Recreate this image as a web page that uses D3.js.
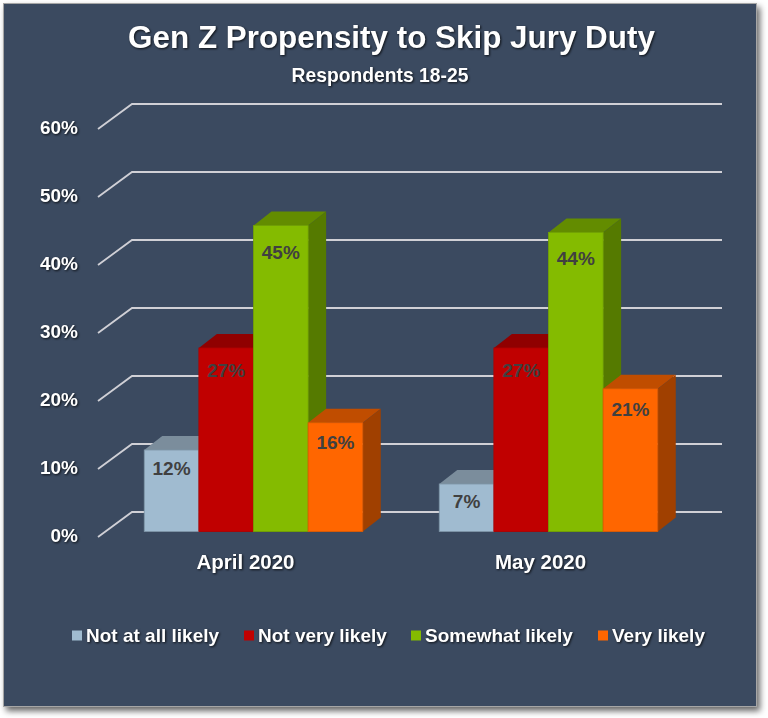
<!DOCTYPE html>
<html>
<head>
<meta charset="utf-8">
<script src="https://cdn.jsdelivr.net/npm/d3@7"></script>
<style>
  html, body { margin: 0; padding: 0; background: #fff; }
  svg { display: block; }
  text { font-family: "Liberation Sans", Arial, sans-serif; font-weight: bold; }
  .glow { fill: #fff; filter: drop-shadow(1.7px 1.7px 1.2px rgba(0, 0, 0, .75)); }
  .bar-label { fill: #404040; font-size: 19px; text-anchor: middle; dominant-baseline: central; }
</style>
</head>
<body>
<script>
const months = ['April 2020', 'May 2020']
const seriesNames = ['Not at all likely', 'Not very likely', 'Somewhat likely', 'Very likely']
const notAtAll = [12, 7]
const notVery = [27, 27]
const somewhat = [45, 44]
const veryLikely = [16, 21]
const yTicks = [0, 10, 20, 30, 40, 50, 60]
const frontColors = ['#a0bbd0', '#c00000', '#84bb00', '#ff6600']
const topColors = ['#7b8d9c', '#900000', '#638c00', '#c04d00']
const sideColors = ['#6f8191', '#800000', '#557a00', '#a04000']
const edgeColors = ['#7d94a6', '#b00000', '#74a400', '#e05a00']

const seriesValues = [notAtAll, notVery, somewhat, veryLikely]

const WIDTH = 768
const HEIGHT = 718
// floor depth of the fake 3D box, and the part of it taken by the bars
const DEPTH = { x: 34, y: 25 }
const BAR_FRONT = { x: 8, y: 5.4 }
const BAR_DEPTH = { x: 18, y: 14 }

const svg = d3.select('body').append('svg')
  .attr('width', WIDTH)
  .attr('height', HEIGHT)

svg.append('rect')
  .attr('x', 3.5)
  .attr('y', 3.5)
  .attr('width', 753)
  .attr('height', 703)
  .attr('fill', '#3b4a60')
  .attr('stroke', '#a6a6a6')
  .style('filter', 'drop-shadow(3px 4px 3px rgba(0, 0, 0, .6))')

const x = d3.scaleBand().domain(months).range([98, 688])
const y = d3.scaleLinear().domain([0, 60]).range([537, 129])
const labelY = d3.scaleLinear().domain([0, 60]).range([547, 154])

const barGroup = d3.scaleBand()
  .domain(seriesNames)
  .range([0, x.bandwidth()])
  .paddingInner(0)
  .paddingOuter(0.7)

// gridlines, back wall and the slanted floor piece
svg.append('g')
  .selectAll('path')
  .data(yTicks)
  .join('path')
  .attr('d', d => d3.line()([
    [x.range()[0], y(d)],
    [x.range()[0] + DEPTH.x, y(d) - DEPTH.y],
    [x.range()[1] + DEPTH.x, y(d) - DEPTH.y],
  ]))
  .attr('fill', 'none')
  .attr('stroke', '#d0d0d6')
  .attr('stroke-width', 1.8)

const yAxis = svg.append('g')
  .attr('transform', 'translate(78,-2)')
  .call(d3.axisLeft(y).tickValues(yTicks).tickFormat(d => `${d}%`).tickSize(0).tickPadding(0))

yAxis.select('.domain').remove()
yAxis.selectAll('text')
  .classed('glow', true)
  .attr('font-family', null)
  .style('font-size', '19px')

const addBar = (month, name, value, i) => {
  const left = x(month) + barGroup(name) + BAR_FRONT.x
  const right = left + barGroup.bandwidth()
  const top = y(value) - BAR_FRONT.y
  const bottom = y(0) - BAR_FRONT.y
  const g = svg.append('g')

  g.append('path')
    .attr('d', d3.line()([
      [left, top],
      [left + BAR_DEPTH.x, top - BAR_DEPTH.y],
      [right + BAR_DEPTH.x, top - BAR_DEPTH.y],
      [right, top],
    ]) + 'Z')
    .attr('fill', topColors[i])

  g.append('path')
    .attr('d', d3.line()([
      [right, top],
      [right + BAR_DEPTH.x, top - BAR_DEPTH.y],
      [right + BAR_DEPTH.x, bottom - BAR_DEPTH.y],
      [right, bottom],
    ]) + 'Z')
    .attr('fill', sideColors[i])

  g.append('rect')
    .attr('x', left)
    .attr('y', top)
    .attr('width', barGroup.bandwidth())
    .attr('height', bottom - top)
    .attr('fill', frontColors[i])
    .attr('stroke', edgeColors[i])
    .attr('stroke-width', 0.8)
}

months.forEach((month, m) => {
  seriesNames.forEach((name, i) => addBar(month, name, seriesValues[i][m], i))
})

// labels go last so no neighbouring bar covers them
months.forEach((month, m) => {
  seriesNames.forEach((name, i) => {
    const value = seriesValues[i][m]
    svg.append('text')
      .attr('class', 'bar-label')
      .attr('x', x(month) + barGroup(name) + barGroup.bandwidth() / 2 + BAR_FRONT.x)
      .attr('y', labelY(value))
      .text(`${value}%`)
  })
})

svg.append('g')
  .selectAll('text')
  .data(months)
  .join('text')
  .attr('class', 'glow')
  .attr('x', d => x(d) + x.bandwidth() / 2)
  .attr('y', 568.5)
  .attr('text-anchor', 'middle')
  .style('font-size', '20.5px')
  .text(d => d)

svg.append('text')
  .attr('class', 'glow')
  .attr('x', 391.5)
  .attr('y', 48)
  .attr('text-anchor', 'middle')
  .style('font-size', '31.4px')
  .text('Gen Z Propensity to Skip Jury Duty')

svg.append('text')
  .attr('class', 'glow')
  .attr('x', 380)
  .attr('y', 81.5)
  .attr('text-anchor', 'middle')
  .style('font-size', '19.3px')
  .text('Respondents 18-25')

const legendX = d3.scaleOrdinal().domain(seriesNames).range([72, 244, 411, 598])

const legend = svg.append('g')
  .selectAll('g')
  .data(seriesNames)
  .join('g')
  .attr('transform', d => `translate(${legendX(d)},630.5)`)

legend.append('rect')
  .attr('width', 10)
  .attr('height', 10)
  .attr('fill', (d, i) => frontColors[i])

legend.append('text')
  .attr('class', 'glow')
  .attr('x', 14)
  .attr('y', 11)
  .style('font-size', '19px')
  .text(d => d)
</script>
</body>
</html>
